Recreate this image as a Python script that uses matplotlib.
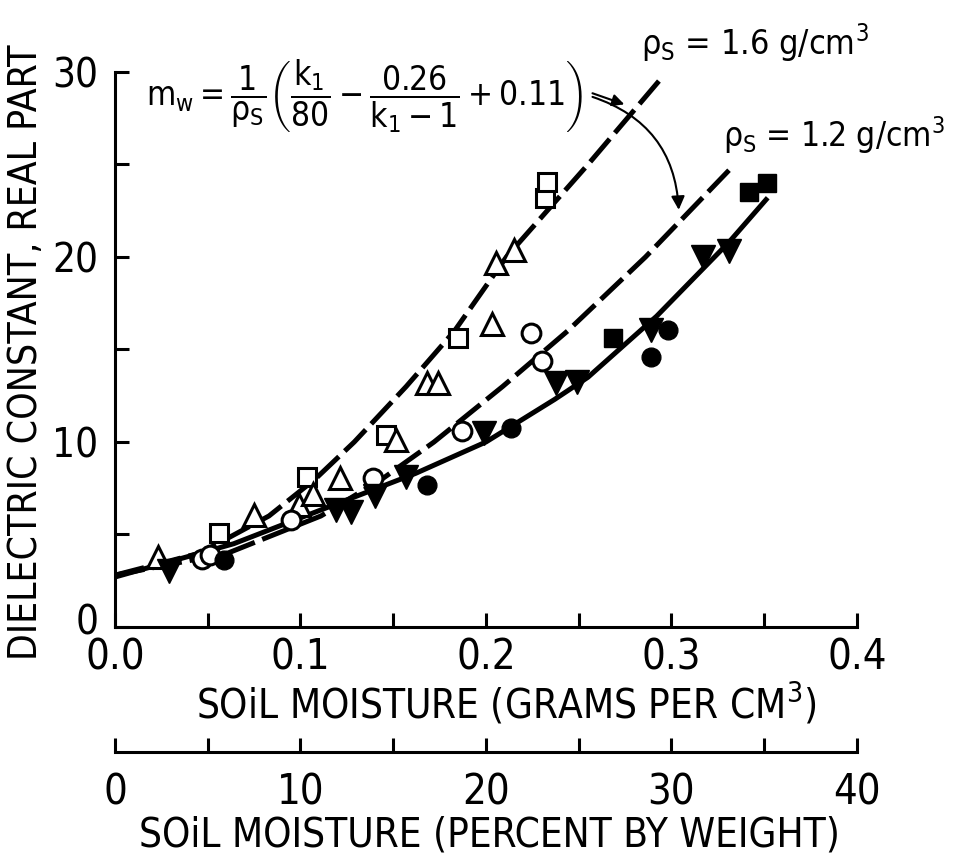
import numpy as np
import matplotlib
matplotlib.use('Agg')
import matplotlib.pyplot as plt
from matplotlib.transforms import ScaledTranslation

plt.rcParams['font.family'] = ['DejaVu Sans']
plt.rcParams['font.stretch'] = 'condensed'
plt.rcParams['mathtext.fontset'] = 'custom'
plt.rcParams['mathtext.rm'] = 'DejaVu Sans:stretch=condensed'
plt.rcParams['mathtext.it'] = 'DejaVu Sans:stretch=condensed'
plt.rcParams['mathtext.sf'] = 'DejaVu Sans:stretch=condensed'

# curves (soil moisture g/cm3, dielectric constant)
curve16_x = [0.0, 0.046, 0.083, 0.108, 0.129, 0.157, 0.183, 0.211, 0.255, 0.294]
curve16_y = [2.8, 4.0, 6.0, 8.0, 10.0, 13.0, 16.0, 20.0, 25.0, 29.6]
curve12_x = [0.0, 0.061, 0.111, 0.144, 0.172, 0.209, 0.244, 0.286, 0.334]
curve12_y = [2.8, 4.0, 6.0, 8.0, 10.0, 13.0, 16.0, 20.0, 25.0]
fit_x = [0.0, 0.064, 0.1, 0.162, 0.2, 0.237, 0.255, 0.292, 0.331, 0.351]
fit_y = [2.7, 4.5, 5.9, 8.3, 10.0, 12.3, 13.5, 16.8, 20.8, 23.1]

# measured points
open_sq_x = [0.056, 0.1035, 0.146, 0.185, 0.2316, 0.233]
open_sq_y = [5.1, 8.1, 10.4, 15.6, 23.2, 24.05]
open_tri_x = [0.023, 0.075, 0.099, 0.107, 0.1215, 0.1515, 0.168, 0.174, 0.203, 0.2055, 0.215]
open_tri_y = [3.8, 6.05, 6.6, 7.2, 8.05, 10.1, 13.2, 13.2, 16.4, 19.7, 20.4]
open_circ_x = [0.047, 0.051, 0.095, 0.139, 0.187, 0.2245, 0.23]
open_circ_y = [3.7, 3.9, 5.8, 8.05, 10.6, 15.9, 14.4]
fill_sq_x = [0.2687, 0.3417, 0.3515]
fill_sq_y = [15.6, 23.5, 24.0]
fill_tri_x = [0.029, 0.119, 0.127, 0.14, 0.157, 0.199, 0.238, 0.249, 0.289, 0.317, 0.331]
fill_tri_y = [3.0, 6.3, 6.2, 7.1, 8.1, 10.5, 13.2, 13.25, 16.05, 20.0, 20.3]
fill_circ_x = [0.059, 0.168, 0.2136, 0.289, 0.298]
fill_circ_y = [3.6, 7.7, 10.75, 14.6, 16.05]

gcm_ticks = [0.0, 0.1, 0.2, 0.3, 0.4]
gcm_labels = ['0.0', '0.1', '0.2', '0.3', '0.4']
pct_ticks = [0, 10, 20, 30, 40]
y_ticks = [0, 10, 20, 30]

fig = plt.figure(figsize=(9.59, 8.61), dpi=100)
ax = fig.add_axes([0.1199, 0.2718, 0.7737, 0.6446])

ax.plot(curve16_x, curve16_y, color='black', lw=3.6, dashes=(6, 1.6), zorder=2)
ax.plot(curve12_x, curve12_y, color='black', lw=3.6, dashes=(6, 1.6), zorder=2)
ax.plot(fit_x, fit_y, color='black', lw=3.6, zorder=2)

ms = 13.5
ax.plot(open_sq_x, open_sq_y, 's', ms=ms, mfc='white', mec='black', mew=2.2, ls='none', zorder=3)
ax.plot(open_tri_x, open_tri_y, '^', ms=ms + 3, mfc='white', mec='black', mew=2.2, ls='none', zorder=3)
ax.plot(open_circ_x, open_circ_y, 'o', ms=ms, mfc='white', mec='black', mew=2.2, ls='none', zorder=3)
ax.plot(fill_sq_x, fill_sq_y, 's', ms=ms, color='black', ls='none', zorder=3)
ax.plot(fill_tri_x, fill_tri_y, 'v', ms=ms + 4, color='black', ls='none', zorder=3)
ax.plot(fill_circ_x, fill_circ_y, 'o', ms=ms, color='black', ls='none', zorder=3)

ax.set_xlim(0, 0.4)
ax.set_ylim(0, 30)
ax.set_xticks(gcm_ticks)
ax.set_xticklabels(gcm_labels)
ax.set_xticks(np.arange(0.05, 0.4, 0.1), minor=True)
ax.set_yticks(y_ticks)
ax.set_yticks([5, 15, 25], minor=True)
for s in ['top', 'right']:
    ax.spines[s].set_visible(False)
for s in ['left', 'bottom']:
    ax.spines[s].set_linewidth(2.2)
ax.tick_params(which='both', direction='in', length=10, width=2.2)
ax.tick_params(axis='x', labelsize=30, pad=7)
ax.tick_params(axis='y', labelsize=29, pad=12)

# lift the "0" on the y axis a little so it clears "0.0"
zero_lbl = ax.yaxis.get_major_ticks()[0].label1
zero_lbl.set_transform(zero_lbl.get_transform() + ScaledTranslation(0, 6 / 72, fig.dpi_scale_trans))

ax.set_xlabel('SOiL MOISTURE (GRAMS PER CM$^3$)', fontsize=29, va='center')
ax.xaxis.set_label_coords(0.527, -0.139)
ax.set_ylabel('DIELECTRIC CONSTANT, REAL PART', fontsize=28, va='center')
ax.yaxis.set_label_coords(-0.12, 0.495)

# formula and curve labels
ax.text(0.1346, 28.7, r'$\mathregular{m_w = \dfrac{1}{\rho_S}\left(\dfrac{k_1}{80} - \dfrac{0.26}{k_1 - 1} + 0.11\right)}$',
        fontsize=24, ha='center', va='center', clip_on=False)
ax.text(0.2834, 31.6, r'$\rho_S$ = 1.6 g/cm$^3$', fontsize=24.5, ha='left', va='center', clip_on=False)
ax.text(0.3280, 26.6, r'$\rho_S$ = 1.2 g/cm$^3$', fontsize=24, ha='left', va='center', clip_on=False)

ax.annotate('', xy=(0.276, 28.2), xytext=(0.256, 28.9),
            arrowprops=dict(arrowstyle='-|>', color='black', lw=1.5, mutation_scale=18))
ax.annotate('', xy=(0.304, 22.4), xytext=(0.256, 28.7),
            arrowprops=dict(arrowstyle='-|>', color='black', lw=1.5, mutation_scale=20,
                            connectionstyle='arc3,rad=-0.35'))

# second scale: percent by weight
ax2 = fig.add_axes([0.1199, 0.1266, 0.7737, 0.001])
ax2.set_xlim(0, 40)
ax2.set_xticks(pct_ticks)
ax2.set_xticks([5, 15, 25, 35], minor=True)
ax2.set_yticks([])
for s in ['top', 'right', 'left']:
    ax2.spines[s].set_visible(False)
ax2.spines['bottom'].set_linewidth(2.2)
ax2.patch.set_visible(False)
ax2.tick_params(which='both', direction='in', length=10, width=2.2)
ax2.tick_params(axis='x', labelsize=30, pad=14)
ax2.set_xlabel('SOiL MOISTURE (PERCENT BY WEIGHT)', fontsize=29, va='center')
ax2.xaxis.set_label_coords(0.505, -97)

fig.savefig('out.png', dpi=100)
